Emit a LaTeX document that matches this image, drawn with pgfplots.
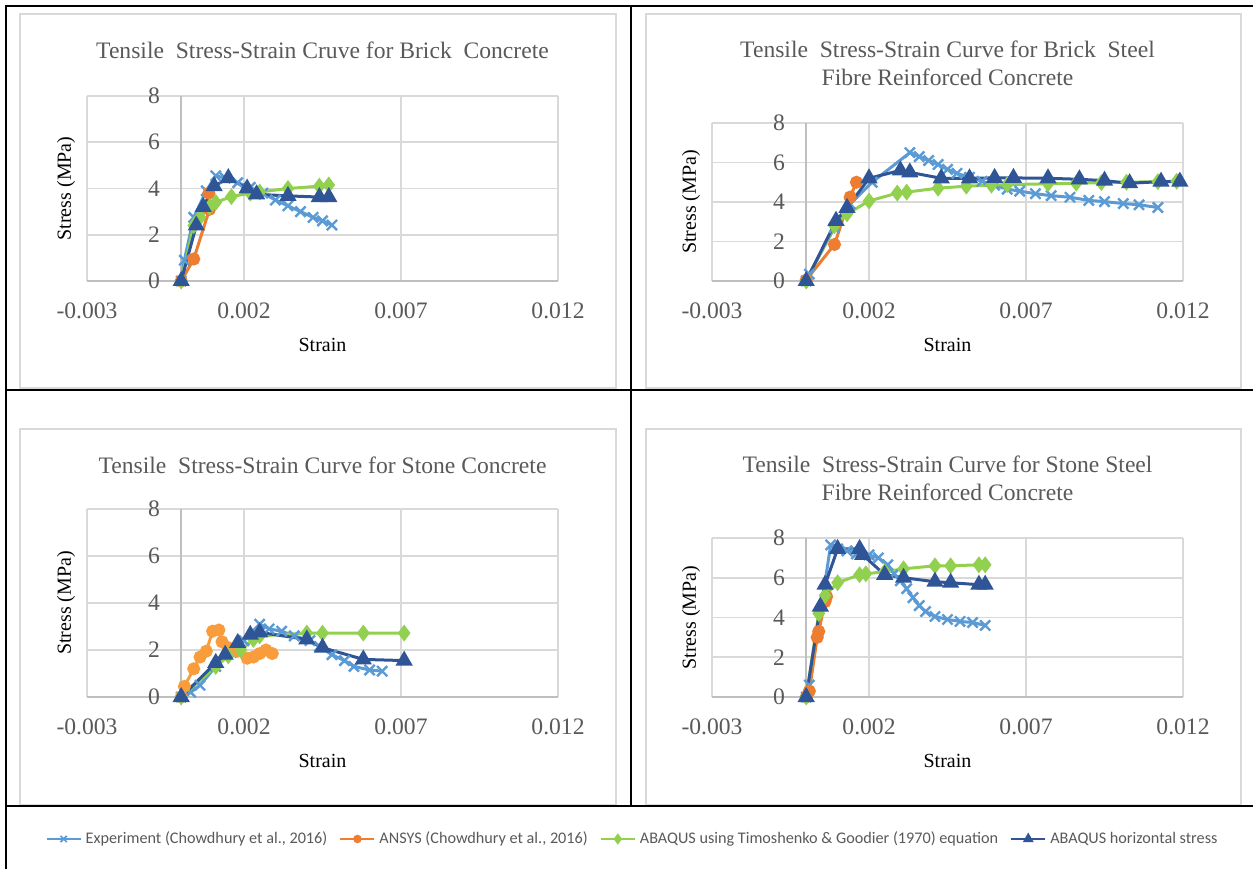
\documentclass[border=0pt]{standalone}
\usepackage{pgfplots}
\pgfplotsset{compat=1.18}
\usepackage{fontspec}
\setmainfont{Liberation Serif}
\newfontfamily\legendfont{Carlito}

\definecolor{expblue}{HTML}{5B9BD5}
\definecolor{ansysorange}{HTML}{ED7D31}
\definecolor{ansyslight}{HTML}{F99D3C}
\definecolor{timogreen}{HTML}{92D050}
\definecolor{horzblue}{HTML}{2F5597}
\definecolor{gridgray}{HTML}{D9D9D9}
\definecolor{axisgray}{HTML}{BFBFBF}
\definecolor{txtgray}{HTML}{595959}

\newcommand{\chartfont}{\fontsize{11.8}{14}\selectfont}

\pgfplotsset{
  panel/.style={
    scale only axis, width=235.5pt,
    xmin=-0.003, xmax=0.012, ymin=0, ymax=8,
    xtick={-0.003,0.002,0.007,0.012}, ytick={2,4,6,8},
    extra x ticks={0}, extra x tick labels={},
    extra x tick style={grid=major, grid style={draw=axisgray, line width=0.9pt}},
    extra y ticks={0},
    extra y tick style={grid=major, grid style={draw=axisgray, line width=0.9pt}},
    grid=major, grid style={draw=gridgray, line width=0.8pt},
    axis line style={draw=none},
    major tick length=0pt,
    scaled x ticks=false, scaled y ticks=false,
    xticklabel style={/pgf/number format/fixed, /pgf/number format/fixed zerofill,
      /pgf/number format/precision=3, /pgf/number format/assume math mode=true, yshift=-7.5pt},
    yticklabel style={/pgf/number format/assume math mode=true, xshift=40pt},
    tick label style={font=\chartfont, text=txtgray},
    xlabel={Strain}, ylabel={Stress (MPa)},
    label style={font=\chartfont, text=txtgray},
    every axis x label/.style={at={(axis description cs:0.5,0)}, anchor=center, yshift=-32pt},
    every axis y label/.style={at={(axis description cs:-0.0446,0.5)}, anchor=center, rotate=90},
    title style={at={(axis description cs:0.5,1)}, anchor=center, font=\chartfont, text=txtgray, align=center},
    clip=false,
  },
  exp/.style={color=expblue, line width=1.5pt, mark=x, mark size=3.6pt, mark options={line width=1.2pt}},
  ansys/.style={color=ansysorange, line width=1.5pt, mark=*, mark size=2.5pt},
  timo/.style={color=timogreen, line width=1.5pt, mark=diamond*, mark size=3pt},
  horz/.style={color=horzblue, line width=1.5pt, mark=triangle*, mark size=3.5pt},
}

\begin{document}
\begin{tikzpicture}
\useasboundingbox (0,0) rectangle (626.5pt,434.5pt);

% chart area borders
\draw[gridgray, line width=0.8pt] (10pt,240.5pt) rectangle (308pt,427.5pt);
\draw[gridgray, line width=0.8pt] (323pt,240.5pt) rectangle (620.5pt,427.5pt);
\draw[gridgray, line width=0.8pt] (10pt,32pt) rectangle (308pt,220pt);
\draw[gridgray, line width=0.8pt] (323pt,32pt) rectangle (620.5pt,220pt);

% table rules
\draw[black, line width=1pt] (3pt,0pt) -- (3pt,431.5pt) -- (626.5pt,431.5pt);
\draw[black, line width=1pt] (3pt,239.5pt) -- (626.5pt,239.5pt);
\draw[black, line width=1pt] (3pt,31.5pt) -- (626.5pt,31.5pt);
\draw[black, line width=1pt] (315.5pt,31.5pt) -- (315.5pt,431.5pt);

% Brick concrete
\begin{axis}[panel, at={(43.5pt,294pt)}, anchor=south west, height=92.5pt,
  title={Tensile\ \ Stress-Strain Cruve for Brick\ \ Concrete},
  title style={yshift=17pt}]
\addplot[exp] coordinates {
 (0,0) (0.0001,0.9) (0.0004,2.75) (0.0008,3.9) (0.0011,4.55) (0.0014,4.45)
 (0.0018,4.25) (0.0022,4.05) (0.0026,3.8) (0.003,3.5) (0.0034,3.25)
 (0.0038,3.0) (0.0042,2.75) (0.0045,2.6) (0.0048,2.42)};
\addplot[ansys] coordinates {
 (0,0) (0.0004,0.95) (0.0009,3.1) (0.00088,3.8)};
\addplot[timo] coordinates {
 (0,0) (0.0004,2.4) (0.0006,2.75) (0.0009,3.2) (0.0011,3.4) (0.0016,3.65)
 (0.0022,3.8) (0.0025,3.85) (0.0034,4.0) (0.0044,4.1) (0.0047,4.15)};
\addplot[horz] coordinates {
 (0,0) (0.00048,2.4) (0.0007,3.2) (0.00105,4.1) (0.0015,4.45) (0.0021,4.0)
 (0.0024,3.75) (0.0034,3.68) (0.0044,3.63) (0.0047,3.63)};
\end{axis}

% Brick steel fibre reinforced concrete
\begin{axis}[panel, at={(356pt,294pt)}, anchor=south west, height=79pt,
  title={Tensile\ \ Stress-Strain Curve for Brick\ \ Steel\\Fibre Reinforced Concrete},
  title style={yshift=23.75pt}]
\addplot[exp] coordinates {
 (0,0) (0.0001,0.35) (0.0009,2.7) (0.0014,3.9) (0.0021,5.0) (0.0033,6.5)
 (0.0036,6.3) (0.0039,6.1) (0.0042,5.9) (0.0045,5.65) (0.0048,5.45)
 (0.0052,5.25) (0.0056,5.05) (0.006,4.85) (0.0064,4.65) (0.0068,4.55)
 (0.0073,4.42) (0.0078,4.32) (0.0084,4.24) (0.009,4.08) (0.0095,4.02)
 (0.0101,3.92) (0.0106,3.86) (0.0112,3.72)};
\addplot[ansys] coordinates {
 (0,0.05) (0.0009,1.85) (0.0014,4.25) (0.0016,5.0)};
\addplot[timo] coordinates {
 (0,0) (0.0009,2.8) (0.0013,3.4) (0.002,4.05) (0.0029,4.45) (0.0032,4.5)
 (0.0042,4.7) (0.0051,4.8) (0.0059,4.85) (0.0064,4.88) (0.0077,4.92)
 (0.0086,4.95) (0.0094,4.98) (0.0102,5.0) (0.0112,5.03) (0.0118,5.05)};
\addplot[horz] coordinates {
 (0,0) (0.00095,3.05) (0.0013,3.7) (0.002,5.2) (0.003,5.6) (0.0033,5.5)
 (0.0043,5.2) (0.0052,5.2) (0.006,5.22) (0.0066,5.22) (0.0077,5.2)
 (0.0087,5.15) (0.0095,5.08) (0.0103,4.95) (0.0113,5.03) (0.0119,5.03)};
\end{axis}

% Stone concrete (carries the shared legend)
\begin{axis}[panel, at={(43.5pt,86pt)}, anchor=south west, height=94pt,
  title={Tensile\ \ Stress-Strain Curve for Stone Concrete},
  title style={yshift=16pt},
  legend style={at={(axis description cs:1.1603,-0.7553)}, anchor=center,
    draw=none, fill=none, legend columns=4,
    font=\legendfont\fontsize{8.1}{10}\selectfont, text=txtgray,
    /tikz/every even column/.append style={column sep=4pt}},
  legend cell align=left]
\addplot[exp, forget plot] coordinates {
 (0,0) (0.0003,0.2) (0.0006,0.5) (0.0011,1.3) (0.0016,1.9) (0.002,2.4)
 (0.0025,3.1) (0.0028,2.9) (0.0032,2.8) (0.0036,2.6) (0.0041,2.4)
 (0.0044,2.15) (0.0048,1.8) (0.0052,1.55) (0.0055,1.3) (0.006,1.15) (0.0064,1.1)};
\addplot[ansys, color=ansyslight, forget plot] coordinates {
 (0,0) (0.0001,0.45) (0.0004,1.2) (0.0006,1.7) (0.0008,1.95) (0.001,2.8)
 (0.0012,2.85) (0.0013,2.35) (0.0015,2.1) (0.0018,1.95) (0.0021,1.65)
 (0.0023,1.7) (0.0025,1.85) (0.0027,2.0) (0.0029,1.85)};
\addplot[timo, forget plot] coordinates {
 (0,0) (0.0011,1.3) (0.0015,1.75) (0.0019,2.0) (0.0023,2.45) (0.0025,2.6)
 (0.004,2.72) (0.0045,2.72) (0.0058,2.72) (0.0071,2.72)};
\addplot[horz, forget plot] coordinates {
 (0,0) (0.0011,1.45) (0.0014,1.8) (0.0018,2.3) (0.0022,2.65) (0.0025,2.75)
 (0.004,2.45) (0.0045,2.1) (0.0058,1.6) (0.0071,1.55)};
\addlegendimage{exp, line width=1pt, mark size=2.2pt, mark options={line width=0.8pt}}
\addlegendentry{Experiment (Chowdhury et al., 2016)}
\addlegendimage{ansys, line width=1pt, mark size=1.6pt}
\addlegendentry{ANSYS (Chowdhury et al., 2016)}
\addlegendimage{timo, line width=1pt, mark size=2pt}
\addlegendentry{ABAQUS using Timoshenko \& Goodier (1970) equation}
\addlegendimage{horz, line width=1pt, mark size=2.2pt}
\addlegendentry{ABAQUS horizontal stress}
\end{axis}

% Stone steel fibre reinforced concrete
\begin{axis}[panel, at={(356pt,86pt)}, anchor=south west, height=79.5pt,
  title={Tensile\ \ Stress-Strain Curve for Stone Steel\\Fibre Reinforced Concrete},
  title style={yshift=23.75pt}]
\addplot[exp] coordinates {
 (0,0) (0.0001,0.6) (0.00078,7.65) (0.001,7.45) (0.0013,7.35) (0.0016,7.2)
 (0.002,7.15) (0.0023,7.0) (0.0026,6.65) (0.0028,6.2) (0.003,5.85)
 (0.0032,5.45) (0.0034,5.0) (0.0036,4.6) (0.0038,4.3) (0.0041,4.05)
 (0.0045,3.9) (0.0049,3.8) (0.0053,3.75) (0.0057,3.6)};
\addplot[ansys] coordinates {
 (0,0) (0.0001,0.3) (0.00035,3.0) (0.0004,3.3) (0.0006,4.8) (0.00065,5.05)};
\addplot[timo] coordinates {
 (0,0) (0.0004,4.2) (0.0006,5.1) (0.001,5.75) (0.0017,6.15) (0.0019,6.2)
 (0.0025,6.3) (0.0031,6.45) (0.0041,6.6) (0.0046,6.6) (0.0055,6.65) (0.0057,6.65)};
\addplot[horz] coordinates {
 (0,0) (0.00045,4.55) (0.0006,5.65) (0.001,7.45) (0.0017,7.45) (0.0018,7.15)
 (0.0025,6.15) (0.0031,6.0) (0.0041,5.8) (0.0046,5.75) (0.0055,5.65) (0.0057,5.65)};
\end{axis}
\end{tikzpicture}
\end{document}
